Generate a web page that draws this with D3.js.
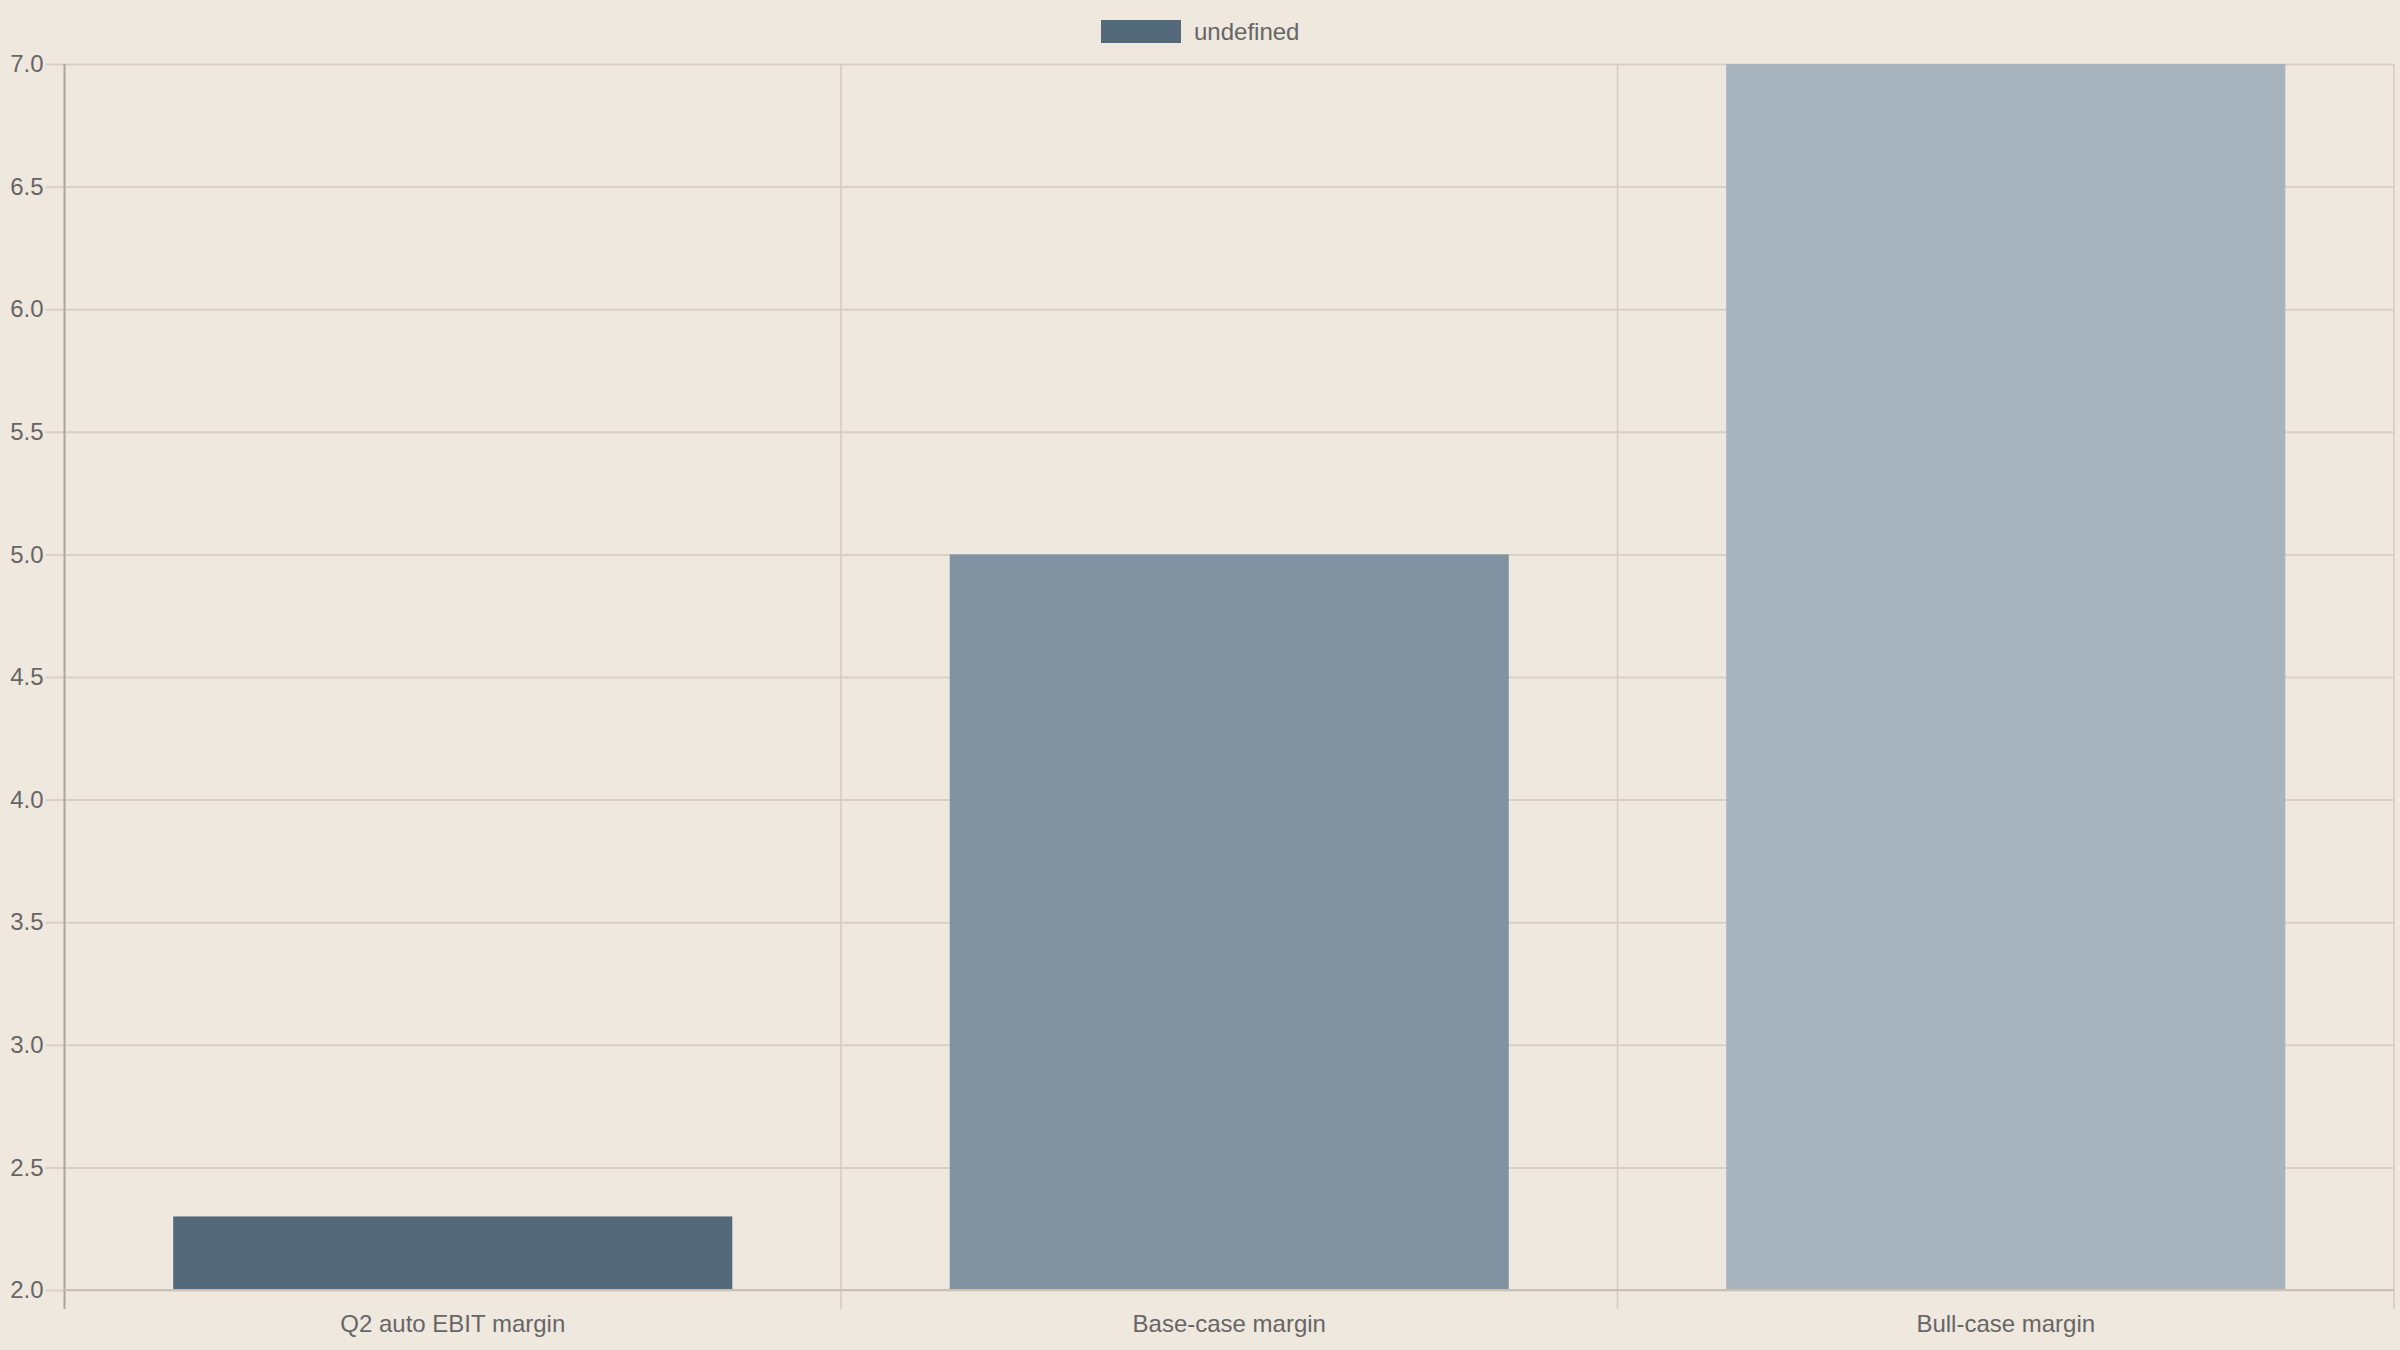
<!DOCTYPE html>
<html>
<head>
<meta charset="utf-8">
<script src="https://cdn.jsdelivr.net/npm/d3@7"></script>
<style>
  html, body { margin: 0; padding: 0; background: #efe8df; }
  svg { display: block; font-family: "Liberation Sans", Arial, sans-serif; }
</style>
</head>
<body>
<svg width="2400" height="1350"></svg>
<script>
// data
var categories = ['Q2 auto EBIT margin', 'Base-case margin', 'Bull-case margin']
var values = [2.3, 5.0, 7.0]
var barColors = ['#536878', '#8193a0', '#a7b4bd']
var yTicks = [2.0, 2.5, 3.0, 3.5, 4.0, 4.5, 5.0, 5.5, 6.0, 6.5, 7.0]
var legendLabel = 'undefined'

var W = 2400, H = 1350
// note: "top" is taken by window.top, so plot edges get their own names
var plotL = 64.5, plotR = 2394, plotT = 64, plotB = 1290

var svg = d3.select('svg')
svg.append('rect').attr('width', W).attr('height', H).attr('fill', '#efe8df')

var x = d3.scaleBand().domain(categories).range([plotL, plotR]).padding(0)
var y = d3.scaleLinear().domain([2, 7]).range([plotB, plotT])

// horizontal grid
svg.append('g')
    .attr('transform', 'translate(' + plotL + ',0)')
    .call(d3.axisLeft(y).tickValues(yTicks).tickSize(-(plotR - plotL)).tickFormat(''))
    .call(function(g){
        g.select('.domain').remove()
        g.selectAll('line').attr('stroke', '#d8d0c6').attr('stroke-width', 2)
    })

// vertical grid at category boundaries
svg.append('g')
    .selectAll('line')
    .data(categories)
    .enter()
    .append('line')
    .attr('x1', function(d){ return x(d) + x.bandwidth() })
    .attr('x2', function(d){ return x(d) + x.bandwidth() })
    .attr('y1', plotT)
    .attr('y2', plotB + 19)
    .attr('stroke', '#d3cbc1')
    .attr('stroke-width', 1.5)

// bars
var inner = x.bandwidth() * 0.72
svg.append('g')
    .selectAll('rect')
    .data(values)
    .enter()
    .append('rect')
    .attr('x', function(d, i){ return x(categories[i]) + (x.bandwidth() - inner) / 2 })
    .attr('width', inner)
    .attr('y', function(d){ return y(d) })
    .attr('height', function(d){ return y(2) - y(d) })
    .attr('fill', function(d, i){ return barColors[i] })

// y axis
svg.append('g')
    .attr('transform', 'translate(' + plotL + ',0)')
    .call(d3.axisLeft(y).tickValues(yTicks).tickSize(19).tickPadding(2).tickFormat(d3.format('.1f')))
    .call(function(g){
        g.select('.domain').remove()
        g.selectAll('line').attr('stroke', '#d8d0c6').attr('stroke-width', 2)
        g.selectAll('text').attr('fill', '#666').attr('font-size', 24)
            .attr('font-family', '"Liberation Sans", Arial, sans-serif')
    })
svg.append('line')
    .attr('x1', plotL).attr('x2', plotL)
    .attr('y1', plotT).attr('y2', plotB + 19)
    .attr('stroke', '#a9a59e').attr('stroke-width', 2)

// x axis
svg.append('g')
    .attr('transform', 'translate(0,' + plotB + ')')
    .call(d3.axisBottom(x).tickSize(0).tickPadding(25))
    .call(function(g){
        g.select('.domain').remove()
        g.selectAll('text').attr('fill', '#666').attr('font-size', 24)
            .attr('font-family', '"Liberation Sans", Arial, sans-serif')
    })
svg.append('line')
    .attr('x1', plotL).attr('x2', plotR)
    .attr('y1', plotB).attr('y2', plotB)
    .attr('stroke', '#c9c1b6').attr('stroke-width', 2)

// legend
var lg = svg.append('g').attr('transform', 'translate(1101,20)')
lg.append('rect').attr('width', 80).attr('height', 23).attr('fill', barColors[0])
lg.append('text')
    .attr('x', 93).attr('y', 19.5)
    .attr('fill', '#666').attr('font-size', 24)
    .text(legendLabel)
</script>
</body>
</html>
